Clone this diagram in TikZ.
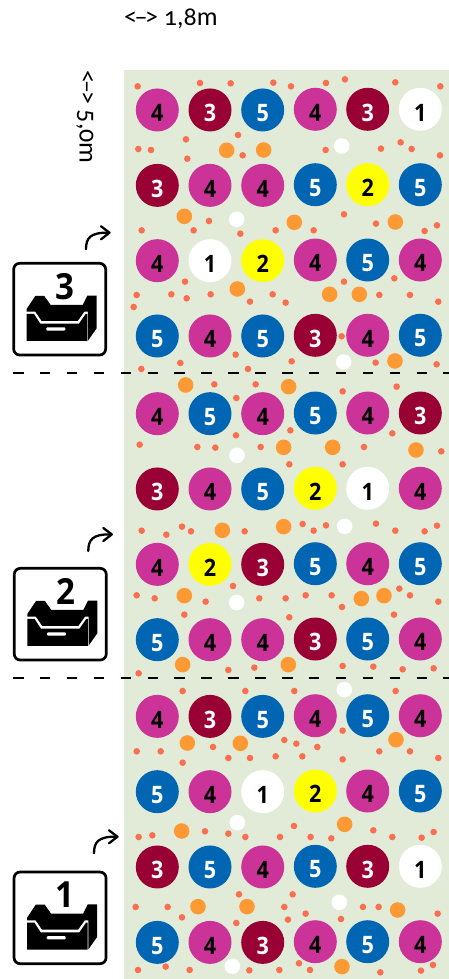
\documentclass[tikz,border=0pt]{standalone}
\usepackage{fontspec}
\newfontfamily\numfont{Open Sans}
\newfontfamily\capfont[Numbers=OldStyle]{Carlito}
\definecolor{bgc}{HTML}{E1EBD7}
\definecolor{magc}{HTML}{CC3399}
\definecolor{redc}{HTML}{990033}
\definecolor{bluc}{HTML}{0066B3}
\definecolor{yelc}{HTML}{FFFF00}
\definecolor{orac}{HTML}{FF9933}
\definecolor{dotc}{HTML}{F96F50}
\tikzset{
  num/.style={font=\numfont\bfseries\fontsize{24}{24}\selectfont,inner sep=0pt},
  dashline/.style={line width=2pt,dash pattern=on 10.5pt off 16.4pt,black},
  capt/.style={font=\capfont\fontsize{26}{26}\selectfont,inner sep=0pt,black},
  turn/.style={line width=2.3pt,line cap=round,line join=round,black}
}
\newcommand\arrowsign{<\kern-2.5pt–\kern-2.5pt>}
% big disc: x, y, value
\newcommand\disc[3]{%
  \ifcase#3\or\def\dc{white}\def\tc{black}\or\def\dc{yelc}\def\tc{black}\or\def\dc{redc}\def\tc{white}\or\def\dc{magc}\def\tc{black}\or\def\dc{bluc}\def\tc{white}\fi
  \fill[\dc] (#1,#2) circle[radius=21.5];
  \node[num,text=\tc] at (#1,#2+3.2) {\scalebox{.9}[1]{#3}};}
% a row: y and six values (first three columns sit 0.67 lower)
\newcommand\rowof[7]{%
  \disc{157.3}{#1+.67}{#2}\disc{210}{#1+.67}{#3}\disc{262.7}{#1+.67}{#4}%
  \disc{315.3}{#1}{#5}\disc{367.7}{#1}{#6}\disc{420.3}{#1}{#7}}
% scatter layer in 3x-zoom coordinates
\newcommand\scatter[5]{%
  \begin{scope}[shift={(120,#1)},x=.3333pt,y=-.3333pt]
    \foreach \a/\b in {#2} \fill[dotc] (\a,\b) circle[radius=3.3pt];
    \foreach \a/\b in {#3} \fill[orac] (\a,\b) circle[radius=7.8pt];
    \foreach \a/\b in {#4} \fill[white] (\a,\b) circle[radius=7.8pt];
  \end{scope}}
% tray icon
\newcommand\traybox[3]{%
  \begin{scope}[shift={(#1,#2)},x=.3333pt,y=-.3333pt]
    \draw[line width=2.7pt,black,fill=white,rounded corners=6pt] (41,160) rectangle (317,435);
    \node[font=\numfont\bfseries\fontsize{36}{36}\selectfont,inner sep=0pt] at (195,229) {\scalebox{.92}[1]{#3}};
    \fill[black] (80,297) -- (106,258) -- (133,258) -- (152,285) -- (248,285) -- (262,257) -- (290,257) -- (290,355) -- (264,392) -- (264,305) -- (253,305) -- (233,333) -- (125,333) -- (106,305) -- (80,305) -- cycle;
    \fill[black] (80,312) -- (102,312) -- (121,341) -- (237,341) -- (257,312) -- (262,312) -- (262,393) -- (80,393) -- cycle;
    \fill[white,rounded corners=1pt] (139,352) rectangle (196,362);
  \end{scope}}
% turn arrow from start point
\newcommand\turnarrow[2]{%
  \begin{scope}[shift={(#1,#2)}]
    \draw[turn] (0,0) .. controls (0,-11) and (4,-17) .. (22.5,-16.6);
    \draw[turn] (15,-23) -- (23.5,-16.6) -- (15,-10);
  \end{scope}}
\begin{document}
\begin{tikzpicture}[x=1pt,y=-1pt]
\useasboundingbox (0,0) rectangle (449,979);
\fill[white] (0,0) rectangle (449,979);
\fill[bgc] (124,70) rectangle (449,979);
\scatter{70}{53/49,240/39,332/40,460/38,513/49,618/39,675/28,826/37,961/49,198/208,354/195,55/237,93/240,202/266,368/256,617/240,783/236,842/217,875/237,960/256,267/453,221/481,65/481,361/491,467/481,581/481,672/433,768/461,914/483,951/466,195/635,50/675,154/673,200/685,41/711,272/673,390/695,458/673,497/698,672/635,778/675,823/625,870/675,955/695,665/799,347/854,181/879,515/874,767/878,950/883,64/897,384/897}{320/241,431/240,193/439,523/457,826/456,352/657,629/673,718/673,825/873}{665/228,350/448,671/876}{}
\scatter{370}{283/43,407/43,349/84,668/64,830/50,511/181,348/196,817/190,59/224,232/231,286/233,422/231,732/231,964/244,508/283,668/283,548/462,581/482,618/466,768/461,826/482,914/484,951/467,65/482,139/494,186/470,213/484,374/484,339/648,50/676,104/685,257/695,418/685,497/685,557/676,635/676,666/711,838/656,870/676,955/695,193/734,508/742,822/734,668/888,760/890,848/898,941/895,403/893,325/900,56/910}{197/45,506/50,491/232,638/232,888/240,307/481,491/470,193/677,724/686,792/677,188/884,505/884}{351/256,674/469,350/698}{}
\scatter{670}{188/63,376/63,523/63,827/63,668/182,493/210,529/221,592/231,50/244,122/244,279/231,778/244,870/244,188/278,325/264,390/264,467/259,547/259,668/268,955/264,522/468,760/481,255/484,56/501,97/496,325/491,376/501,480/501,572/501,634/505,817/501,905/503,941/486,357/673,518/673,47/711,143/711,493/711,729/711,776/711,186/742,557/731,953/731,504/749,663/747,349/759,137/890,54/900,209/900,388/901,478/900,537/880,570/900,781/907,903/902,939/885}{202/219,361/220,828/209,185/483,674/463,234/710,381/710,833/720,666/890}{673/59,352/458,658/697,337/889}{}
\rowof{109.3}{4}{3}{5}{4}{3}{1}
\rowof{184.7}{3}{4}{4}{5}{2}{5}
\rowof{260}{4}{1}{2}{4}{5}{4}
\rowof{335.3}{5}{4}{5}{3}{4}{5}
\rowof{413}{4}{5}{4}{5}{4}{3}
\rowof{488.3}{3}{4}{5}{2}{1}{4}
\rowof{563.7}{4}{2}{3}{5}{4}{5}
\rowof{639}{5}{4}{4}{3}{5}{4}
\rowof{715.7}{4}{3}{5}{4}{5}{4}
\rowof{791}{5}{4}{1}{2}{4}{5}
\rowof{866.3}{3}{5}{4}{5}{3}{1}
\rowof{941.7}{5}{4}{3}{4}{5}{4}
\draw[dashline] (13,372.5) -- (449,372.5);
\draw[dashline] (13,677.5) -- (449,677.5);
\traybox{0}{210}{3}
\traybox{.6}{515}{2}
\traybox{.4}{818.7}{1}
\turnarrow{86}{249.3}
\turnarrow{88.3}{551}
\turnarrow{94}{853.3}
\node[capt,anchor=west] (widthlabel) at (124,19) {\arrowsign\ 1,8m};
\node[capt,anchor=west,rotate=-90] (heightlabel) at (85,70) {\arrowsign\ 5,0m};
\end{tikzpicture}
\end{document}
